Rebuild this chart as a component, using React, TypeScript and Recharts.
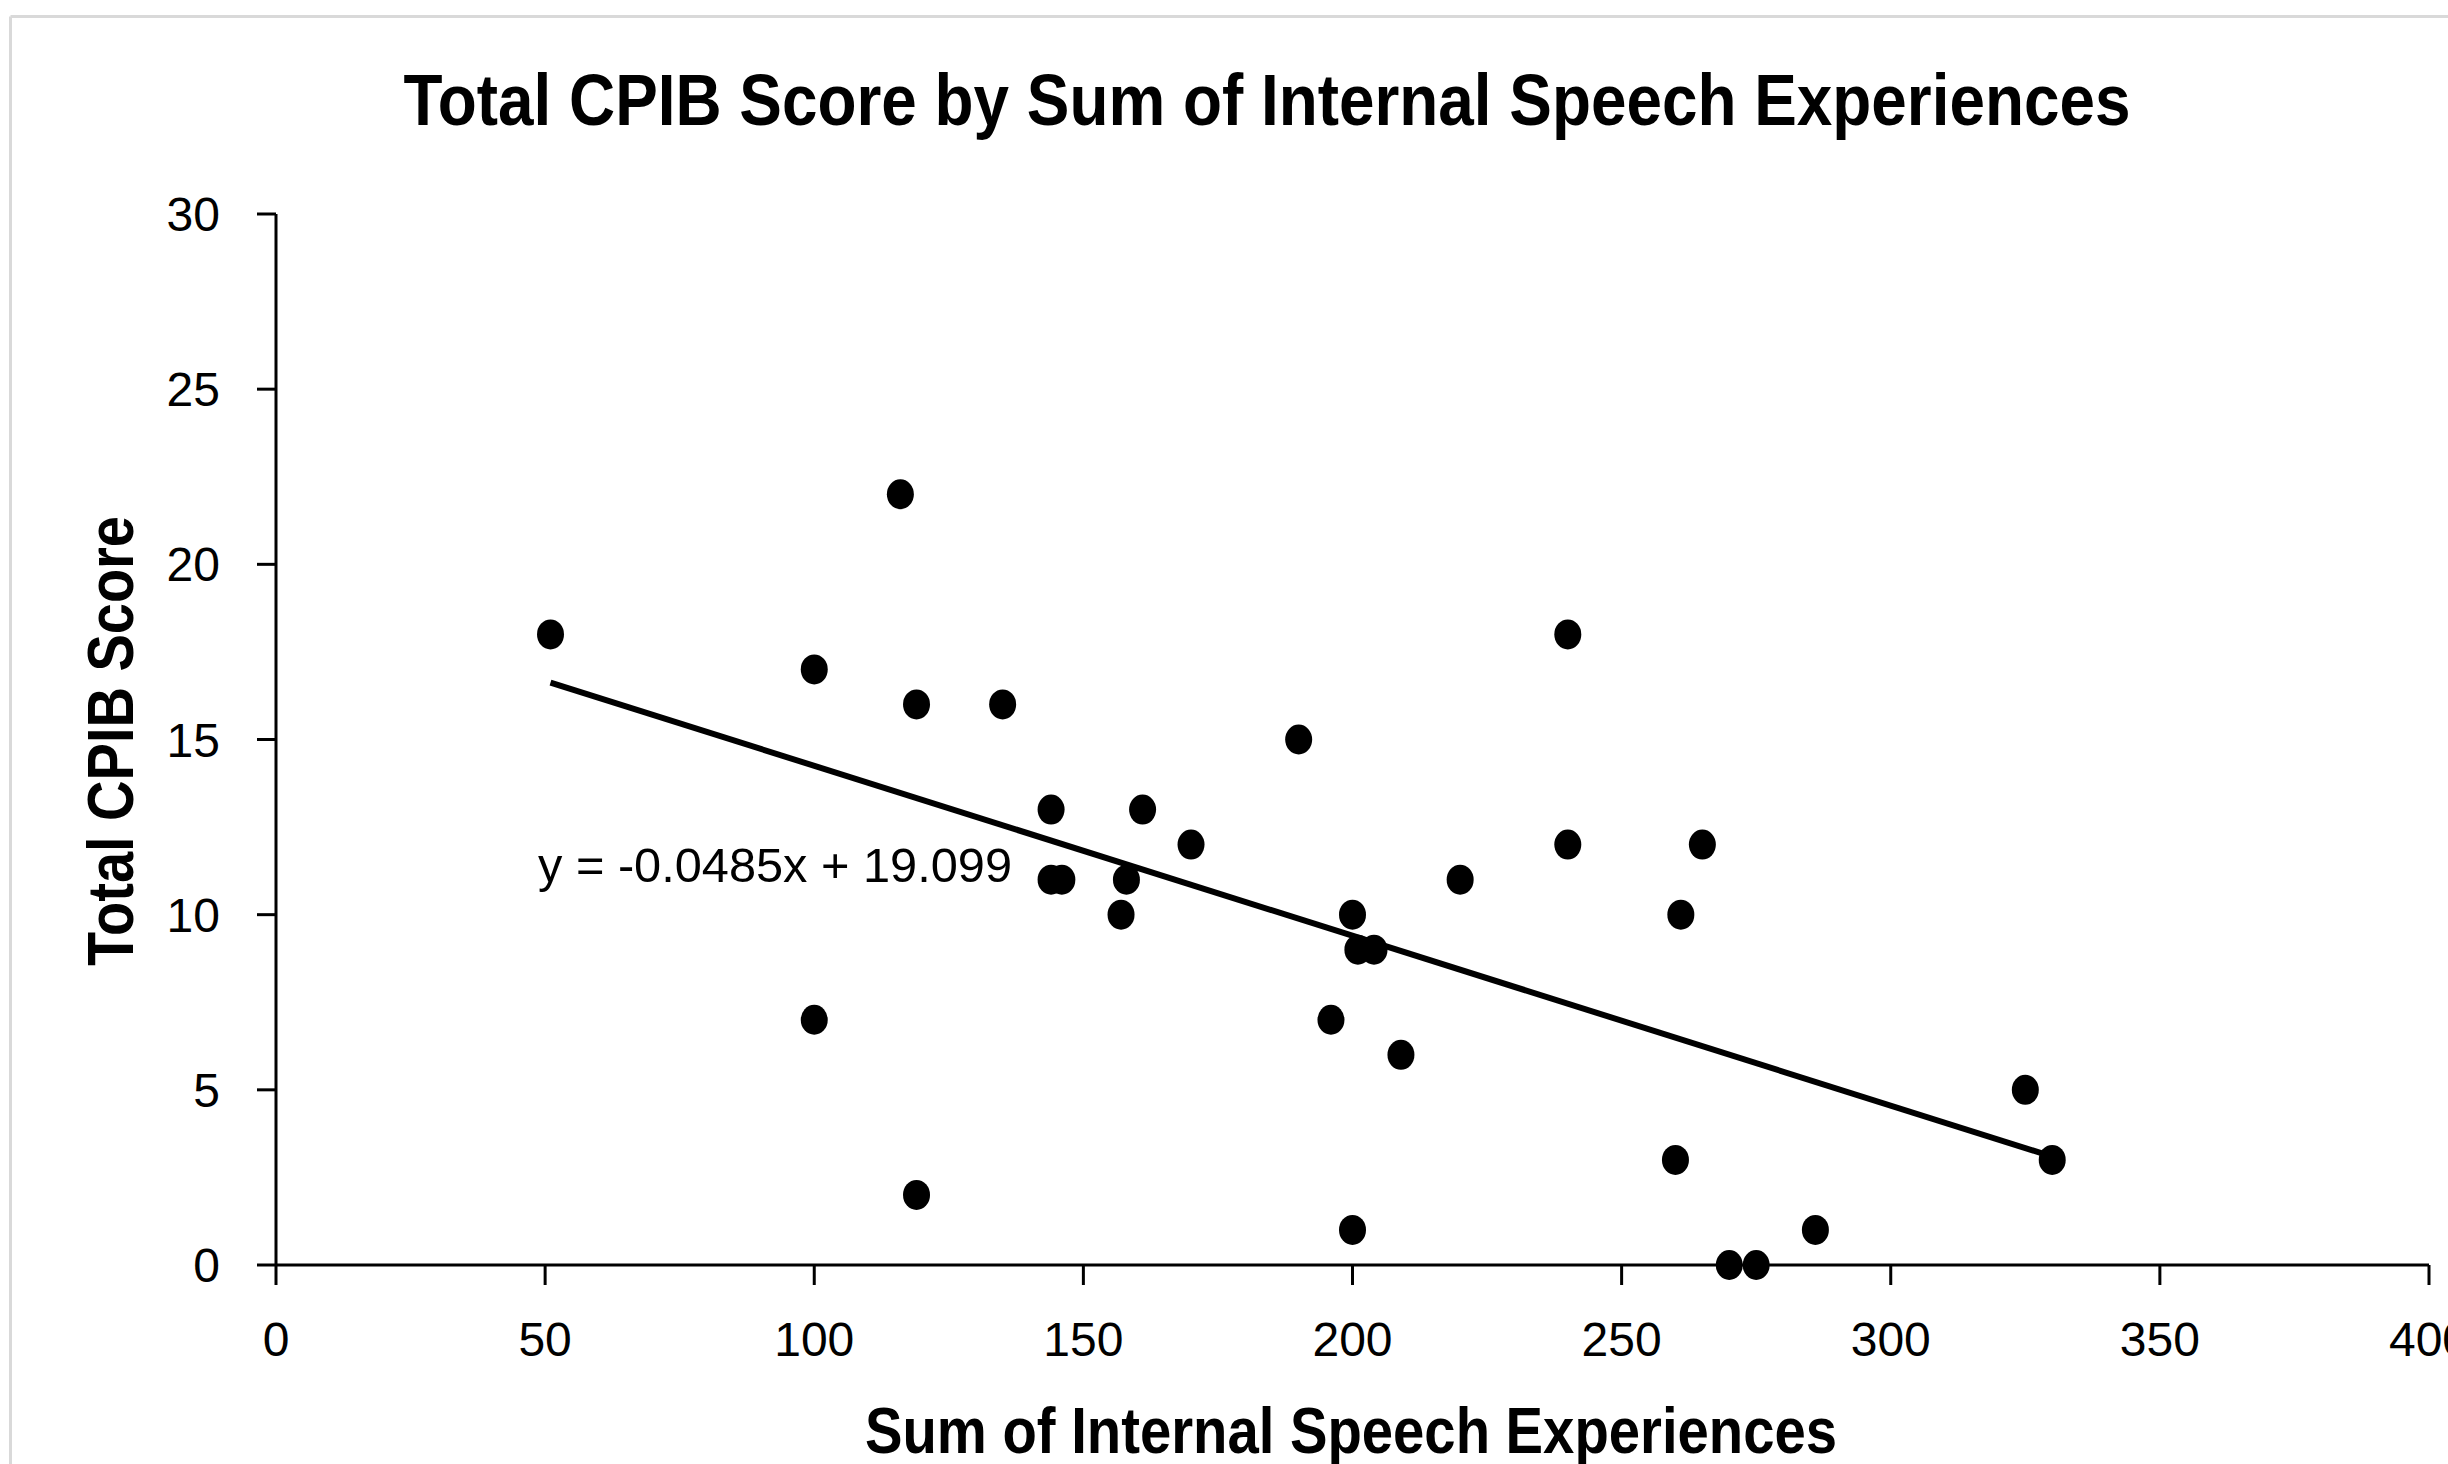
import React from 'react';
import { ScatterChart, Scatter, XAxis, YAxis, ReferenceLine } from 'recharts';

// values
const internalSpeech = [51, 116, 100, 119, 135, 144, 144, 146, 158, 157, 161, 170, 190, 200, 201, 204, 196, 209, 220, 240, 240, 265, 261, 100, 119, 200, 260, 270, 275, 286, 325, 330];
const cpibScore = [18, 22, 17, 16, 16, 13, 11, 11, 11, 10, 13, 12, 15, 10, 9, 9, 7, 6, 11, 18, 12, 12, 10, 7, 2, 1, 3, 0, 0, 1, 5, 3];
const xTicks = [0, 50, 100, 150, 200, 250, 300, 350, 400];
const yTicks = [0, 5, 10, 15, 20, 25, 30];

// linear trendline as printed on the chart
const trendSlope = -0.0485;
const trendIntercept = 19.099;

const chartTitle = 'Total CPIB Score by Sum of Internal Speech Experiences';
const xTitle = 'Sum of Internal Speech Experiences';
const yTitle = 'Total CPIB Score';
const equationText = 'y = -0.0485x + 19.099';

const W = 2448;
const H = 1464;

const Dot = (props: any) => {
  const { cx, cy } = props;
  if (cx == null || cy == null) return null;
  return <ellipse cx={cx} cy={cy} rx={13.5} ry={15} fill="#000" />;
};

const App: React.FC = () => {
  const points = internalSpeech.map((x, i) => ({ x, y: cpibScore[i] }));
  const xMin = Math.min(...internalSpeech);
  const xMax = Math.max(...internalSpeech);
  const trendSegment = [
    { x: xMin, y: trendIntercept + trendSlope * xMin },
    { x: xMax, y: trendIntercept + trendSlope * xMax },
  ];

  const axisStroke = { stroke: '#000', strokeWidth: 3 };

  return (
    <div
      style={{
        position: 'relative',
        width: W,
        height: H,
        overflow: 'hidden',
        background: '#fff',
        fontFamily: "'Liberation Sans', Arial, sans-serif",
      }}
    >
      <style>{'body{margin:0;overflow:hidden;background:#fff}'}</style>
      <ScatterChart width={W} height={H} margin={{ top: 214, right: 19, bottom: 139, left: 176 }}>
        <XAxis
          type="number"
          dataKey="x"
          domain={[0, 400]}
          ticks={xTicks}
          interval={0}
          height={60}
          tickSize={20}
          tickMargin={37}
          axisLine={axisStroke}
          tickLine={axisStroke}
          tick={{ fill: '#000', fontSize: 48 }}
        />
        <YAxis
          type="number"
          dataKey="y"
          domain={[0, 30]}
          ticks={yTicks}
          interval={0}
          width={100}
          tickSize={19}
          tickMargin={37}
          axisLine={axisStroke}
          tickLine={axisStroke}
          tick={{ fill: '#000', fontSize: 48 }}
        />
        <Scatter data={points} fill="#000" shape={Dot} isAnimationActive={false} />
        <ReferenceLine segment={trendSegment} stroke="#000" strokeWidth={6} />
      </ScatterChart>

      {/* titles, equation and chart frame */}
      <svg width={W} height={H} style={{ position: 'absolute', left: 0, top: 0, pointerEvents: 'none' }}>
        <line x1={10.5} y1={16.5} x2={10.5} y2={H} stroke="#d9d9d9" strokeWidth={3} />
        <line x1={10.5} y1={16.5} x2={W} y2={16.5} stroke="#d9d9d9" strokeWidth={3} />
        <text
          x={1267}
          y={125}
          textAnchor="middle"
          fontSize={72}
          fontWeight="bold"
          fill="#000"
          textLength={1727}
          lengthAdjust="spacingAndGlyphs"
        >
          {chartTitle}
        </text>
        <text
          x={1351}
          y={1453}
          textAnchor="middle"
          fontSize={64}
          fontWeight="bold"
          fill="#000"
          textLength={972}
          lengthAdjust="spacingAndGlyphs"
        >
          {xTitle}
        </text>
        <text
          x={133}
          y={741}
          transform="rotate(-90, 133, 741)"
          textAnchor="middle"
          fontSize={64}
          fontWeight="bold"
          fill="#000"
          textLength={450}
          lengthAdjust="spacingAndGlyphs"
        >
          {yTitle}
        </text>
        <text x={538} y={882} fontSize={48} fill="#000" textLength={474} lengthAdjust="spacingAndGlyphs">
          {equationText}
        </text>
      </svg>
    </div>
  );
};

export default App;
